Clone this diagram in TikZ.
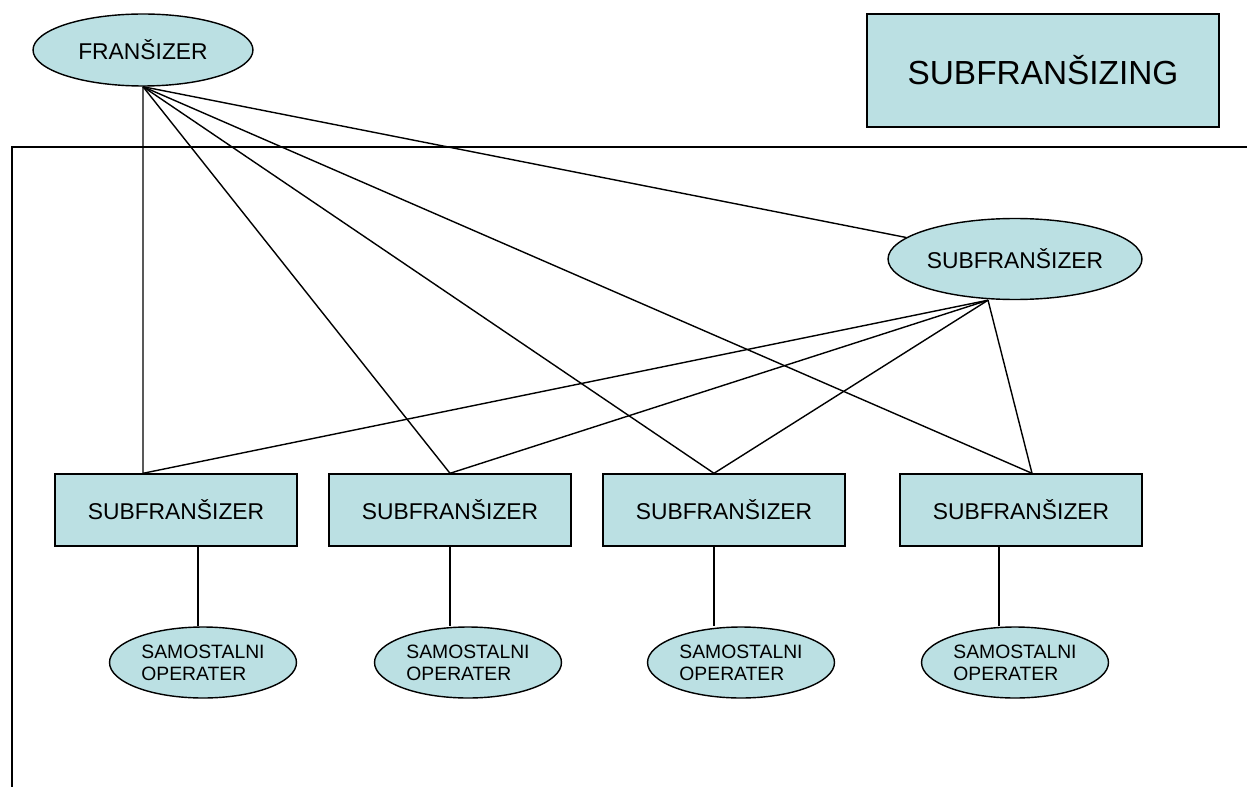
\documentclass[tikz,border=0pt]{standalone}
\usepackage{fontspec}
\setmainfont{Liberation Sans}
\usepackage{xcolor}
\definecolor{Col1}{RGB}{187,224,227}
\usepackage{tikz}
\usetikzlibrary{shapes}
\tikzstyle{Oval}=[ellipse,draw=black,fill=Col1,line width=0.8pt,inner sep=0pt,
font=\fontsize{13}{15}\selectfont]
\tikzstyle{Box}=[rectangle,draw=black,fill=Col1,line width=0.8pt,inner sep=0pt,
minimum width=4.84cm,minimum height=1.44cm,font=\fontsize{13}{15}\selectfont]
\tikzstyle{NodeOP}=[Oval,minimum width=3.74cm,minimum height=1.42cm,align=left,
font=\fontsize{11}{12.5}\selectfont]
\tikzstyle{Edge}=[draw=black,line width=0.8pt]

\begin{document}
\begin{tikzpicture}[x=0.02cm,y=-0.02cm]
        \useasboundingbox(0,0)rectangle(1247,787);
        \node[Oval,minimum width=4.4cm,minimum height=1.44cm](F)at(143,50){FRANŠIZER};
        \node[Box,minimum width=7.04cm,minimum height=2.26cm,
            font=\fontsize{19}{22}\selectfont](T)at(1043,70.5){SUBFRANŠIZING};
        \node[Oval,minimum width=5.08cm,minimum height=1.62cm](S)at(1015,259){SUBFRANŠIZER};
        \node[Box](S1)at(176,510){SUBFRANŠIZER};
        \node[Box](S2)at(450,510){SUBFRANŠIZER};
        \node[Box](S3)at(724,510){SUBFRANŠIZER};
        \node[Box](S4)at(1021,510){SUBFRANŠIZER};
        \node[NodeOP](O1)at(203,662.5){SAMOSTALNI\\OPERATER};
        \node[NodeOP](O2)at(468,662.5){SAMOSTALNI\\OPERATER};
        \node[NodeOP](O3)at(741,662.5){SAMOSTALNI\\OPERATER};
        \node[NodeOP](O4)at(1015,662.5){SAMOSTALNI\\OPERATER};
        \draw[Edge](1247,147)--(12,147)--(12,787);
        \draw[Edge](F.south)--([xshift=-0.66cm]S1.north);
        \draw[Edge](F.south)--(S2.north);
        \draw[Edge](F.south)--([xshift=-0.2cm]S3.north);
        \draw[Edge](F.south)--([xshift=0.22cm]S4.north);
        \draw[Edge](F.south)--(S);
        \draw[Edge]([xshift=-0.54cm]S.south)--([xshift=-0.66cm]S1.north);
        \draw[Edge]([xshift=-0.54cm]S.south)--(S2.north);
        \draw[Edge]([xshift=-0.54cm]S.south)--([xshift=-0.2cm]S3.north);
        \draw[Edge]([xshift=-0.54cm]S.south)--([xshift=0.22cm]S4.north);
        \draw[Edge]([xshift=0.44cm]S1.south)--([xshift=0.44cm]S1.south|-O1.north);
        \draw[Edge](S2.south)--(S2.south|-O2.north);
        \draw[Edge]([xshift=-0.2cm]S3.south)--([xshift=-0.2cm]S3.south|-O3.north);
        \draw[Edge]([xshift=-0.44cm]S4.south)--([xshift=-0.44cm]S4.south|-O4.north);
    \end{tikzpicture}
\end{document}
